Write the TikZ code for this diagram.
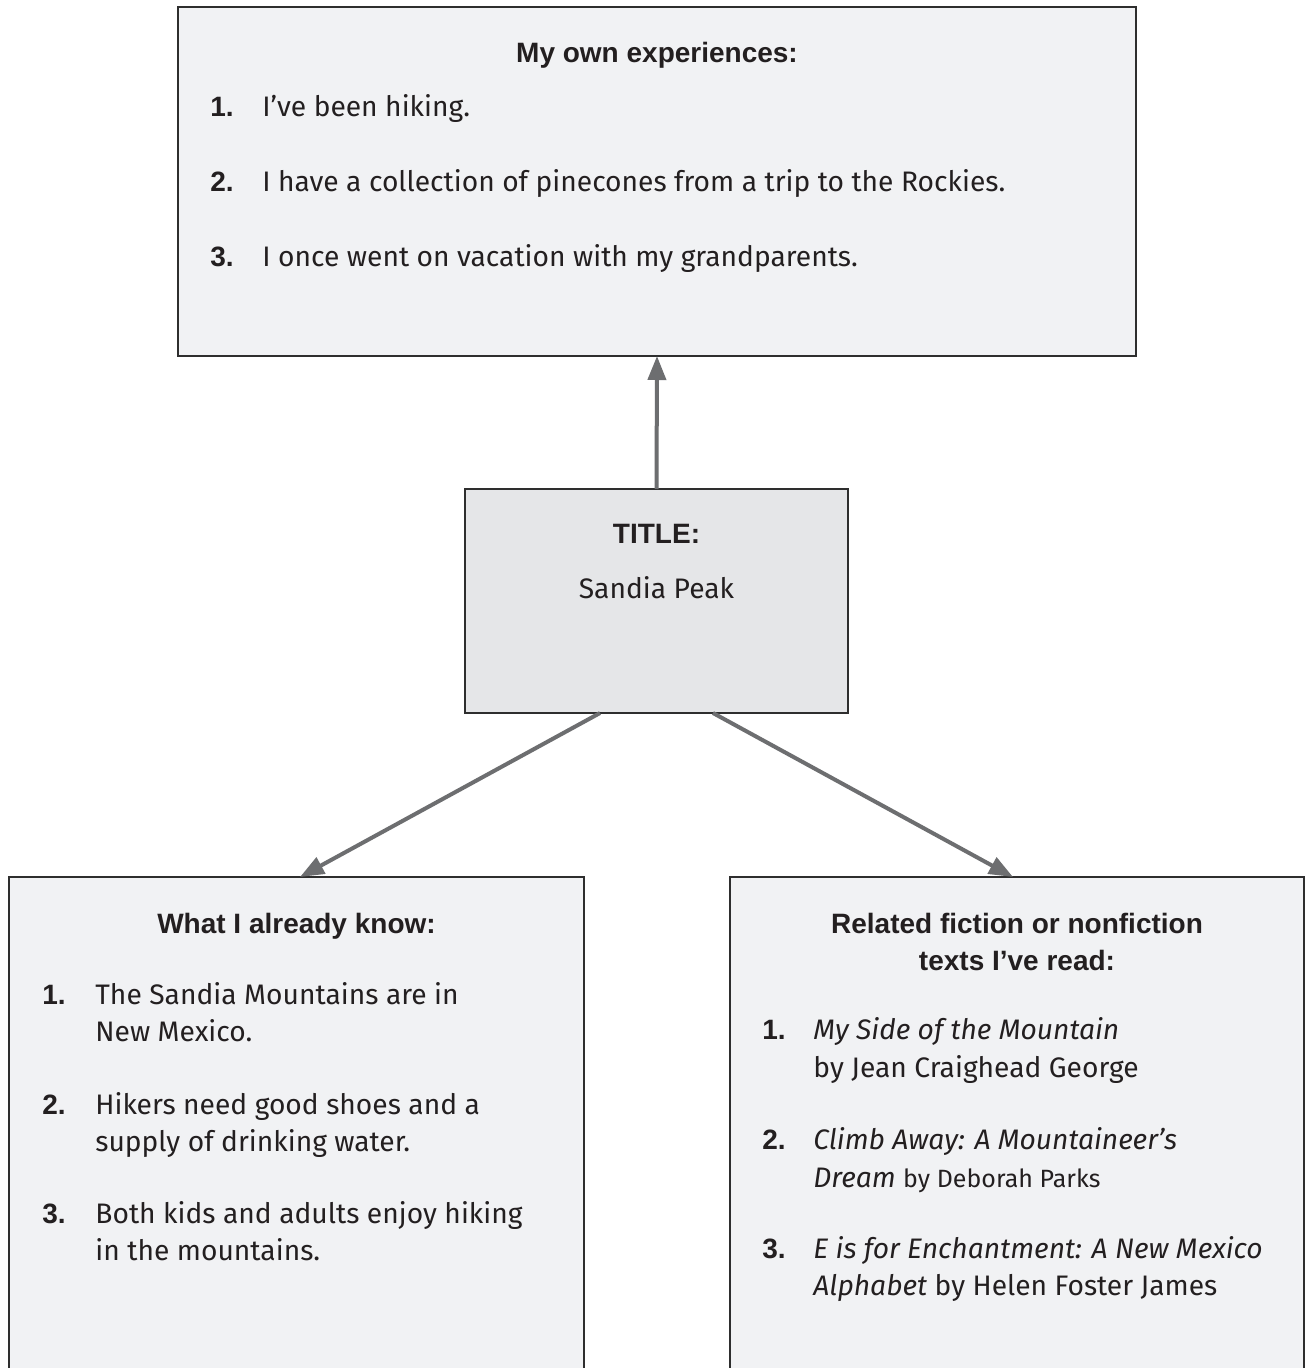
\documentclass[tikz,border=0pt]{standalone}
\usepackage{fontspec}
\setmainfont{Fira Sans}
\newfontfamily\headfont{Liberation Sans}
\usetikzlibrary{arrows.meta}
\definecolor{boxline}{HTML}{2E2E2E}
\definecolor{panelfill}{HTML}{F1F2F4}
\definecolor{titlefill}{HTML}{E5E6E8}
\definecolor{arrowgray}{HTML}{6D6E70}
\definecolor{ink}{HTML}{231F20}
\tikzset{
  panel/.style={draw=boxline, line width=1pt, fill=panelfill, inner sep=0pt, outer sep=0pt},
  titlepanel/.style={panel, fill=titlefill},
  head/.style={font=\headfont\fontsize{14}{16}\selectfont\bfseries, text=ink, anchor=base, inner sep=0pt},
  num/.style={font=\headfont\fontsize{14}{16}\selectfont\bfseries, text=ink, anchor=base west, inner sep=0pt},
  item/.style={font=\fontsize{14.1}{16}\selectfont, text=ink, anchor=base west, inner sep=0pt},
  link/.style={draw=arrowgray, line width=2pt, -{Triangle[length=12pt,width=9pt]}},
}
\begin{document}
\begin{tikzpicture}[x=0.5pt,y=-0.5pt]
\clip (0,0) rectangle (1309,1368);
\fill[white] (0,0) rectangle (1309,1368);

% panels
\node[panel, minimum width=479pt, minimum height=174.5pt] (exp) at (657,181.5) {};
\node[titlepanel, minimum width=191.5pt, minimum height=112pt] (ttl) at (656.5,601) {};
\node[panel, minimum width=287.5pt, minimum height=251.5pt] (know) at (296.5,1128.5) {};
\node[panel, minimum width=287pt, minimum height=251.5pt] (read) at (1017,1128.5) {};

% connectors
\draw[link] (ttl.north) -- (exp.south);
\draw[link] ([shift={(-56.5,0)}]ttl.south) -- ([shift={(3.5,0)}]know.north);
\draw[link] ([shift={(56.5,0)}]ttl.south) -- ([shift={(-4,0)}]read.north);

% my own experiences
\node[head] (exph) at (657,63) {My own experiences:};
\node[num] (e1n) at (210,117) {1.};
\node[item] (e1) at (262,117) {I’ve been hiking.};
\node[num] (e2n) at (210,192) {2.};
\node[item] (e2) at (262,192) {I have a collection of pinecones from a trip to the Rockies.};
\node[num] (e3n) at (210,267) {3.};
\node[item] (e3) at (262,267) {I once went on vacation with my grandparents.};

% title
\node[head] (tth) at (656.5,543) {TITLE:};
\node[item, anchor=base] (tt) at (656.5,598) {Sandia Peak};

% what I already know
\node[head] (kh) at (296.5,933) {What I already know:};
\node[num] (k1n) at (42,1004) {1.};
\node[item] (k1a) at (95,1004) {The Sandia Mountains are in};
\node[item] (k1b) at (95,1041) {New Mexico.};
\node[num] (k2n) at (42,1114) {2.};
\node[item] (k2a) at (95,1114) {Hikers need good shoes and a};
\node[item] (k2b) at (95,1151) {supply of drinking water.};
\node[num] (k3n) at (42,1223) {3.};
\node[item] (k3a) at (95,1223) {Both kids and adults enjoy hiking};
\node[item] (k3b) at (95,1260) {in the mountains.};

% related texts
\node[head] (rh1) at (1017,933) {Related fiction or nonfiction};
\node[head] (rh2) at (1017,970) {texts I’ve read:};
\node[num] (r1n) at (762,1039) {1.};
\node[item] (r1a) at (813,1039) {\itshape My Side of the Mountain};
\node[item] (r1b) at (813,1077) {by Jean Craighead George};
\node[num] (r2n) at (762,1149) {2.};
\node[item] (r2a) at (813,1149) {\itshape Climb Away: A Mountaineer’s};
\node[item] (r2b) at (813,1187) {\itshape Dream\upshape{} {\fontsize{12.5}{14}\selectfont by Deborah Parks}};
\node[num] (r3n) at (762,1258) {3.};
\node[item] (r3a) at (813,1258) {\itshape E is for Enchantment: A New Mexico};
\node[item] (r3b) at (813,1295) {\itshape Alphabet\upshape{} by Helen Foster James};
\end{tikzpicture}
\end{document}
